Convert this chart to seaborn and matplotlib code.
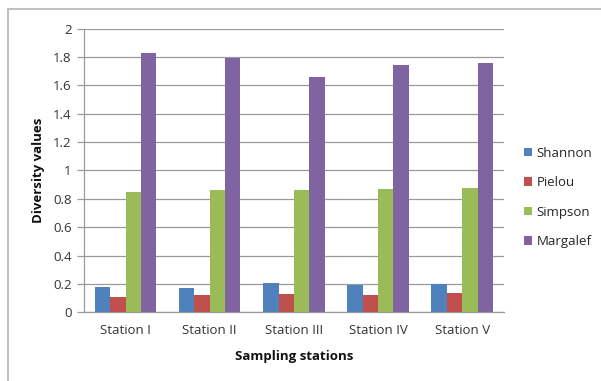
import matplotlib
matplotlib.use("Agg")
import matplotlib.pyplot as plt
from matplotlib.patches import Rectangle
from matplotlib.ticker import FixedLocator, FuncFormatter
import seaborn as sns
import pandas as pd
import numpy as np

stations = ["Station I", "Station II", "Station III", "Station IV", "Station V"]
indices = ["Shannon", "Pielou", "Simpson", "Margalef"]
shannon = [0.18, 0.17, 0.21, 0.19, 0.20]
pielou = [0.11, 0.12, 0.13, 0.12, 0.14]
simpson = [0.85, 0.865, 0.865, 0.868, 0.878]
margalef = [1.827, 1.79, 1.658, 1.745, 1.757]
colors = ["#4F81BD", "#C0504D", "#9BBB59", "#8064A2"]

df = pd.DataFrame({
    "station": stations * 4,
    "index": sum([[name] * len(stations) for name in indices], []),
    "value": shannon + pielou + simpson + margalef,
})

sns.set_theme(style="white")
plt.rcParams["font.family"] = ["Open Sans", "DejaVu Sans"]

fig = plt.figure(figsize=(6.01, 3.81), dpi=100)
ax = fig.add_axes([0.139, 0.18, 0.70, 0.745])

sns.barplot(data=df, x="station", y="value", hue="index", order=stations,
            hue_order=indices, palette=colors, width=0.73, gap=0,
            saturation=1, errorbar=None, ax=ax, zorder=3)
for p in ax.patches:
    p.set_edgecolor("none")

ax.set_xlim(-0.5, len(stations) - 0.5)
ax.set_ylim(0, 2)
ax.yaxis.set_major_locator(FixedLocator(np.arange(0, 2.01, 0.2)))
ax.yaxis.set_major_formatter(FuncFormatter(lambda v, _: f"{v:.1f}".rstrip("0").rstrip(".")))
ax.grid(axis="y", color="#9a9a9a", linewidth=0.9, zorder=0)
ax.set_axisbelow(True)

for side in ["top", "right"]:
    ax.spines[side].set_visible(False)
for side in ["left", "bottom"]:
    ax.spines[side].set_color("#9a9a9a")
    ax.spines[side].set_linewidth(0.9)

ax.xaxis.set_minor_locator(FixedLocator(np.arange(-0.5, len(stations), 1.0)))
ax.tick_params(axis="x", which="major", length=0, pad=8, labelsize=9.5, colors="#333333")
ax.tick_params(axis="x", which="minor", length=4, width=0.9, color="#9a9a9a", direction="out")
ax.tick_params(axis="y", which="major", length=5, width=0.9, color="#9a9a9a",
               direction="out", left=True, labelsize=9.5, labelcolor="#333333")

ax.set_xlabel("Sampling stations", fontsize=9.5, fontweight="bold", labelpad=10, color="#111111")
ax.set_ylabel("Diversity values", fontsize=9.5, fontweight="bold", labelpad=6, color="#111111")

ax.legend(loc="center left", bbox_to_anchor=(1.035, 0.405), frameon=False,
          fontsize=9.5, handlelength=0.6, handleheight=0.6, handletextpad=0.35,
          labelspacing=1.25, borderaxespad=0)

# outer chart frame
fig.patches.append(Rectangle((8 / 601, -0.05), 1.1, (381 - 9) / 381 + 0.05,
                             transform=fig.transFigure, fill=False,
                             edgecolor="#bfbfbf", linewidth=1.5))

fig.savefig("out.png", dpi=100)
